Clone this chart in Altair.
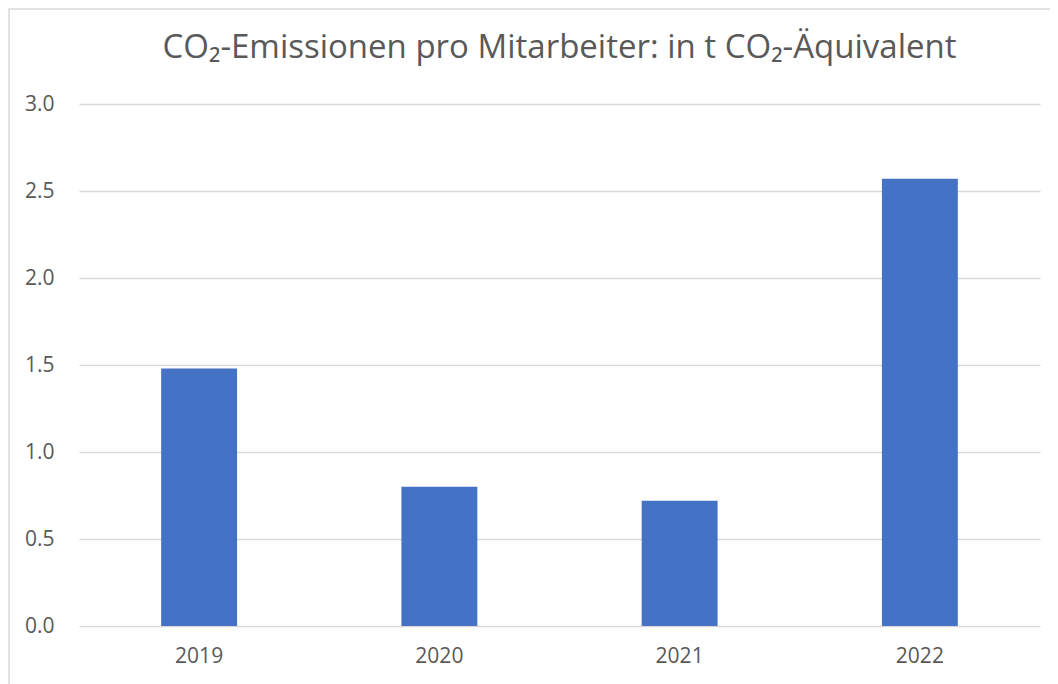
import altair as alt
import pandas as pd

years = ["2019", "2020", "2021", "2022"]
values = [1.48, 0.80, 0.72, 2.57]
y_ticks = [0.0, 0.5, 1.0, 1.5, 2.0, 2.5, 3.0]
title_text = "CO₂-Emissionen pro Mitarbeiter: in t CO₂-Äquivalent"

df = pd.DataFrame({"Jahr": years, "Wert": values})

FONT = "Open Sans"
GREY = "#595959"

frame = alt.Chart(pd.DataFrame({"k": [0]})).mark_rect(
    fill=None, stroke="#d9d9d9", strokeWidth=1.5
).encode(
    x=alt.value(-70), x2=alt.value(1000),
    y=alt.value(-95), y2=alt.value(700)
)

bars = alt.Chart(df).mark_bar(color="#4472c4").encode(
    x=alt.X("Jahr:N", sort=years,
            scale=alt.Scale(paddingInner=0.684, paddingOuter=0.342),
            axis=alt.Axis(title=None, labelAngle=0, ticks=False, domain=False,
                          labelFont=FONT, labelFontSize=21, labelColor=GREY,
                          labelPadding=19)),
    y=alt.Y("Wert:Q", scale=alt.Scale(domain=[0, 3], nice=False),
            axis=alt.Axis(title=None, values=y_ticks, format=".1f", ticks=False,
                          domain=False, labelFont=FONT, labelFontSize=21,
                          labelColor=GREY, labelPadding=25,
                          gridColor="#d9d9d9", gridWidth=1.5))
)

chart = alt.layer(frame, bars).properties(
    width=961, height=522,
    title=alt.TitleParams(title_text, font=FONT, fontSize=33, fontWeight="normal",
                          color=GREY, anchor="middle", offset=-57),
    padding={"left": 71, "top": 96, "right": 10, "bottom": 58},
    autosize=alt.AutoSizeParams(type="none"),
).configure_view(stroke=None)

chart.save("out.html", embed_options={"renderer": "svg", "actions": False})
